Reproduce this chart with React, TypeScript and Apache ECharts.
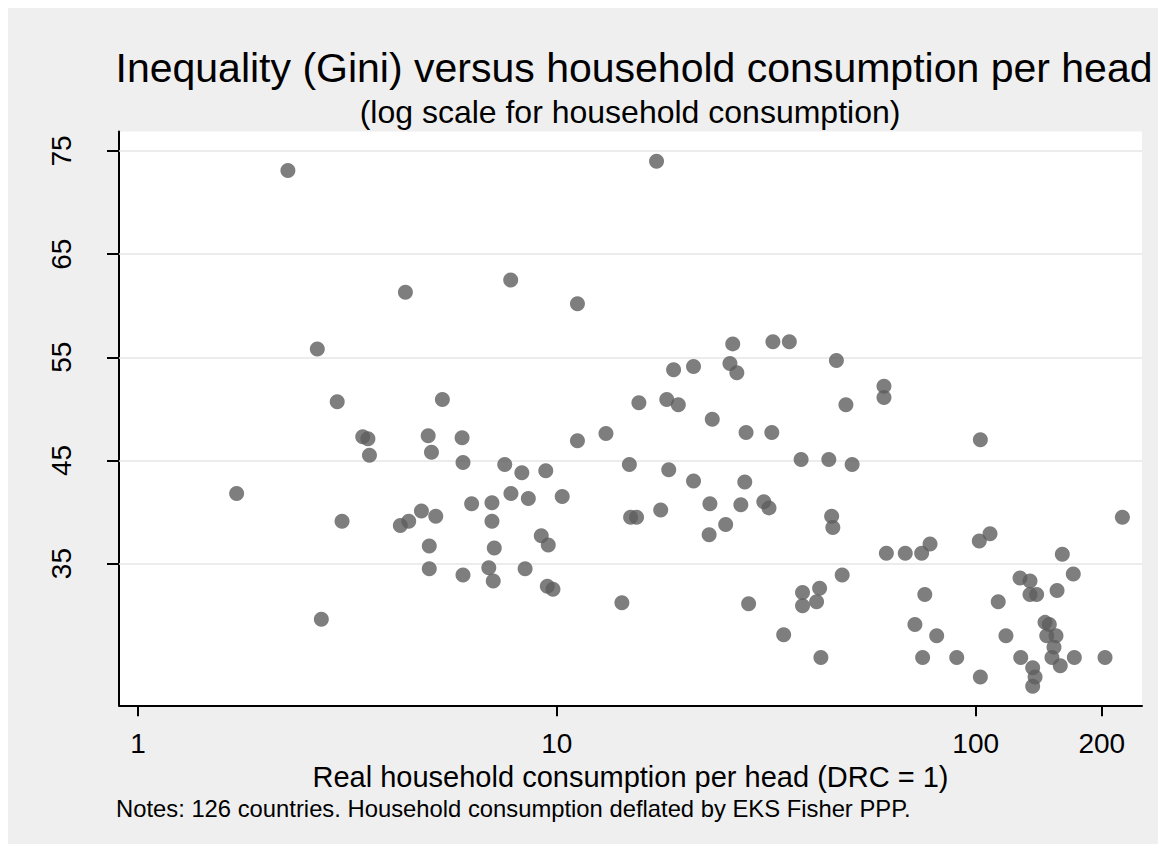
import React, { useEffect, useRef } from "react";
import * as echarts from "echarts";

const titleText = "Inequality (Gini) versus household consumption per head";
const subtitleText = "(log scale for household consumption)";
const xAxisTitle = "Real household consumption per head (DRC = 1)";
const notesText = "Notes: 126 countries. Household consumption deflated by EKS Fisher PPP.";

const xTickValues = [1, 10, 100, 200];
const yTickValues = [35, 45, 55, 65, 75];

// Real household consumption per head (DRC = 1)
const consumption = [
  2.28, 4.35, 7.76, 11.2, 2.68, 2.99, 5.33, 17.3, 26.3, 32.8,
  35.9, 46.5, 19.0, 21.2, 25.9, 26.9, 60.4, 60.4, 15.7, 18.3,
  19.5, 49.0, 3.44, 3.54, 3.57, 4.93, 5.02, 5.94, 5.97, 7.51,
  8.25, 9.41, 11.2, 13.1, 14.9, 15.0, 15.5, 1.72, 3.07, 2.74,
  4.75, 5.14, 4.43, 4.23, 4.96, 4.96, 6.26, 7.0, 7.0, 7.09,
  6.88, 7.05, 5.97, 7.77, 8.55, 10.3, 9.18, 9.54, 8.4, 9.49,
  9.79, 14.3, 23.5, 28.3, 32.6, 102.6, 38.3, 44.6, 50.7, 18.5,
  21.2, 28.1, 17.7, 23.2, 27.5, 31.2, 32.1, 25.3, 23.1, 45.3,
  45.6, 61.2, 67.9, 74.3, 77.8, 102.0, 108.2, 224, 161, 171,
  127.6, 134.8, 134.8, 139.8, 156.4, 113.2, 48.0, 42.4, 38.6, 41.7,
  38.6, 28.7, 75.6, 34.8, 42.7, 71.6, 80.7, 74.7, 90.1, 102.6,
  118.1, 128.1, 146.4, 149.9, 147.8, 155.5, 153.8, 152.1, 159.2, 172.0,
  203.6, 136.8, 138.6, 136.8,
];

// Gini coefficient
const gini = [
  73.1, 61.3, 62.5, 60.2, 55.8, 50.7, 50.9, 74.0, 56.3, 56.5,
  56.5, 54.7, 53.8, 54.1, 54.4, 53.5, 52.2, 51.1, 50.6, 50.9,
  50.4, 50.4, 47.3, 47.1, 45.5, 47.4, 45.8, 47.2, 44.8, 44.6,
  43.8, 44.0, 46.9, 47.6, 44.6, 39.5, 39.5, 41.8, 39.1, 29.6,
  40.1, 39.6, 39.1, 38.7, 36.7, 34.5, 40.8, 40.9, 39.1, 36.5,
  34.6, 33.3, 33.9, 41.8, 41.3, 41.5, 37.7, 36.8, 34.5, 32.8,
  32.5, 31.2, 49.0, 47.7, 47.7, 47.0, 45.1, 45.1, 44.6, 44.1,
  43.0, 42.9, 40.2, 40.8, 40.7, 41.0, 40.4, 38.8, 37.8, 39.6,
  38.5, 36.0, 36.0, 36.0, 36.9, 37.2, 37.9, 39.5, 35.9, 34.0,
  33.6, 33.3, 32.0, 32.0, 32.4, 31.3, 33.9, 32.6, 32.2, 31.3,
  30.9, 31.1, 32.0, 28.1, 25.9, 29.1, 28.0, 25.9, 25.9, 24.0,
  28.0, 25.9, 29.3, 29.1, 28.0, 28.0, 26.9, 25.9, 25.1, 25.9,
  25.9, 24.9, 24.0, 23.1,
];

const FONT = "'Liberation Sans', Arial, Helvetica, sans-serif";

export default function App() {
  const ref = useRef<HTMLDivElement>(null);

  useEffect(() => {
    if (!ref.current) return;
    const chart = echarts.init(ref.current, null, { renderer: "svg" });
    const points = consumption.map((c, i) => [c, gini[i]]);
    chart.setOption({
      animation: false,
      backgroundColor: "#efefef",
      textStyle: { fontFamily: FONT },
      grid: {
        left: 111,
        top: 123.5,
        right: 16,
        bottom: 138.7,
        show: true,
        backgroundColor: "#ffffff",
        borderWidth: 0,
      },
      xAxis: {
        type: "log",
        logBase: 10,
        min: 0.9009,
        max: 249.5,
        name: xAxisTitle,
        nameLocation: "middle",
        nameGap: 51,
        nameTextStyle: { fontSize: 29, color: "#000", fontFamily: FONT },
        axisLine: { show: true, onZero: false, lineStyle: { color: "#000", width: 2 } },
        axisTick: {
          show: true,
          length: 11,
          lineStyle: { color: "#000", width: 2 },
          customValues: xTickValues,
        },
        axisLabel: {
          show: true,
          margin: 24,
          fontSize: 28,
          color: "#000",
          fontFamily: FONT,
          customValues: xTickValues,
        },
        splitLine: { show: false },
        minorTick: { show: false },
        minorSplitLine: { show: false },
      },
      yAxis: {
        type: "value",
        min: 21.26,
        max: 76.89,
        axisLine: { show: true, lineStyle: { color: "#000", width: 2 } },
        axisTick: {
          show: true,
          length: 12,
          lineStyle: { color: "#000", width: 2 },
          customValues: yTickValues,
        },
        axisLabel: {
          show: true,
          rotate: 90,
          margin: 44,
          fontSize: 28,
          color: "#000",
          fontFamily: FONT,
          customValues: yTickValues,
        },
        splitLine: { show: false },
      },
      series: [
        {
          type: "scatter",
          data: points,
          symbol: "circle",
          symbolSize: 15,
          itemStyle: { color: "#5e5e5e" },
          markLine: {
            silent: true,
            symbol: ["none", "none"],
            label: { show: false },
            lineStyle: { color: "#e6e6e6", width: 1.5, type: "solid" },
            z: 1,
            data: yTickValues.map((v) => ({ yAxis: v })),
          },
          z: 3,
        },
      ],
      graphic: [
        {
          type: "text",
          x: 626,
          y: 59.5,
          style: {
            text: titleText,
            fontSize: 41,
            fontFamily: FONT,
            fill: "#000",
            align: "center",
            verticalAlign: "middle",
          },
        },
        {
          type: "text",
          x: 622,
          y: 103.5,
          style: {
            text: subtitleText,
            fontSize: 32,
            fontFamily: FONT,
            fill: "#000",
            align: "center",
            verticalAlign: "middle",
          },
        },
        {
          type: "text",
          x: 108,
          y: 800,
          style: {
            text: notesText,
            fontSize: 23.8,
            fontFamily: FONT,
            fill: "#000",
            align: "left",
            verticalAlign: "middle",
          },
        },
      ],
    });
    return () => chart.dispose();
  }, []);

  return <div ref={ref} style={{ width: 1150, height: 836 }} />;
}
